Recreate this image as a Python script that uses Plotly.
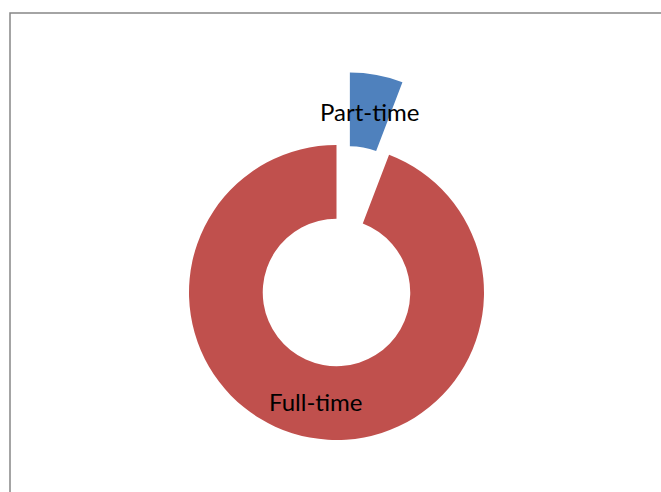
import math
import plotly.graph_objects as go

# Employment type split
categories = ["Part-time", "Full-time"]
values = [5.8, 94.2]
colors = ["#4F81BD", "#C0504D"]

W, H = 661, 492
# donut geometry in pixels
cx, cy = 336.5, 292.5
r_out = 147.5
hole = 0.5
pull = 0.5  # explode distance as fraction of outer radius

total = sum(values)
half_angle = math.radians(values[0] / total * 360 / 2)
dx = pull * r_out * math.sin(half_angle)
dy = -pull * r_out * math.cos(half_angle)


def domain(px, py):
    return dict(
        x=[(px - r_out) / W, (px + r_out) / W],
        y=[1 - (py + r_out) / H, 1 - (py - r_out) / H],
    )


fig = go.Figure()

# main ring (Full-time visible)
fig.add_trace(go.Pie(
    labels=categories, values=values, hole=hole, sort=False,
    direction="clockwise", rotation=0,
    marker=dict(colors=["rgba(0,0,0,0)", colors[1]], line=dict(width=0)),
    textinfo="none", hoverinfo="label+value", showlegend=False,
    domain=domain(cx, cy),
))
# exploded slice (Part-time visible)
fig.add_trace(go.Pie(
    labels=categories, values=values, hole=hole, sort=False,
    direction="clockwise", rotation=0,
    marker=dict(colors=[colors[0], "rgba(0,0,0,0)"], line=dict(width=0)),
    textinfo="none", hoverinfo="label+value", showlegend=False,
    domain=domain(cx + dx, cy + dy),
))

# slice labels at mid-ring along each slice's bisector
r_mid = r_out * (1 + hole) / 2
start = 0.0
annotations = []
for i, (lab, v) in enumerate(zip(categories, values)):
    ang = math.radians((start + v / 2) / total * 360)
    start += v
    ox, oy = (cx + dx, cy + dy) if i == 0 else (cx, cy)
    px = ox + r_mid * math.sin(ang)
    py = oy - r_mid * math.cos(ang)
    annotations.append(dict(
        x=px / W, y=1 - py / H, xref="paper", yref="paper",
        xanchor="center", yanchor="middle",
        text=lab, showarrow=False,
        font=dict(family="Lato", size=24, color="#000000"),
    ))

fig.update_layout(
    width=W, height=H,
    margin=dict(l=0, r=0, t=0, b=0),
    paper_bgcolor="#FFFFFF", plot_bgcolor="#FFFFFF",
    annotations=annotations,
    shapes=[dict(
        type="rect", xref="paper", yref="paper",
        x0=10 / W, x1=1.05, y0=-0.05, y1=1 - 13 / H,
        line=dict(color="#868686", width=1.5),
    )],
)

fig.write_html("out.html")
